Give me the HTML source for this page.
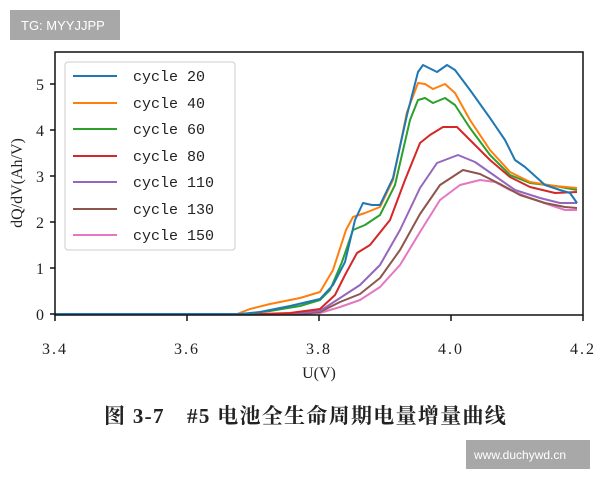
<!DOCTYPE html>
<html><head><meta charset="utf-8"><style>
body{margin:0;background:#fff;width:600px;height:480px;overflow:hidden}
</style></head><body>
<svg width="600" height="480" xmlns="http://www.w3.org/2000/svg" style="position:absolute;left:0;top:0">
<rect x="10" y="10" width="110" height="30" fill="#a8a8a8"/>
<text x="21" y="30" font-family="Liberation Sans,sans-serif" font-size="13" fill="#fff">TG: MYYJJPP</text>
<rect x="466" y="440" width="124" height="29" fill="#a8a8a8"/>
<text x="474" y="459" font-family="Liberation Sans,sans-serif" font-size="12" fill="#fff">www.duchywd.cn</text>

<g fill="none" stroke-width="2" stroke-linejoin="round">
<polyline stroke="#e377c2" points="55,314 285,314 300,314 320,313 340,307 360,300 380,287 400,265 420,232 440,200 460,185 480,180 495,182 510,190 530,198 550,205 565,210 577,210"/>
<polyline stroke="#8c564b" points="55,314 280,314 300,314 320,312 340,302 360,294 380,278 400,250 420,214 440,185 463,170 480,174 500,184 520,195 545,203 565,207 577,208"/>
<polyline stroke="#9467bd" points="55,314 275,314 300,313 320,311 340,298 360,285 380,265 400,230 420,188 437,163 458,155 475,162 495,176 515,190 540,198 560,203 577,203"/>
<polyline stroke="#d62728" points="55,314 260,314 290,313 320,309 335,295 345,275 357,253 370,245 390,220 405,180 420,143 430,135 443,127 457,127 470,140 490,160 510,177 530,187 555,193 577,192"/>
<polyline stroke="#2ca02c" points="55,314 245,314 270,311 300,306 320,300 330,290 342,262 353,230 365,225 380,215 395,185 410,120 418,100 425,98 433,103 445,98 455,105 470,128 490,155 510,175 530,183 555,186 577,190"/>
<polyline stroke="#ff7f0e" points="55,314 237,314 250,309 270,304 300,298 320,292 333,270 346,230 353,217 365,213 380,207 393,180 407,112 418,83 425,84 433,89 445,84 455,93 470,120 490,150 510,172 530,182 555,186 577,188"/>
<polyline stroke="#1f77b4" points="55,314 240,314 260,312 290,306 320,299 333,285 345,262 355,220 363,203 372,205 380,205 393,178 407,115 418,72 423,65 437,72 447,65 455,70 470,90 490,118 505,140 515,160 525,167 545,185 560,190 570,193 577,203"/>
</g>

<rect x="55" y="52" width="528" height="263" fill="none" stroke="#111" stroke-width="1.5"/>
<g stroke="#111" stroke-width="1.5">
<line x1="50" y1="314" x2="55" y2="314"/><line x1="50" y1="268" x2="55" y2="268"/><line x1="50" y1="222" x2="55" y2="222"/><line x1="50" y1="176" x2="55" y2="176"/><line x1="50" y1="130" x2="55" y2="130"/><line x1="50" y1="84" x2="55" y2="84"/>
<line x1="55" y1="315" x2="55" y2="321"/><line x1="187" y1="315" x2="187" y2="321"/><line x1="319" y1="315" x2="319" y2="321"/><line x1="451" y1="315" x2="451" y2="321"/><line x1="583" y1="315" x2="583" y2="321"/>
</g>
<g font-family="Liberation Serif,serif" font-size="16" fill="#222" text-anchor="end">
<text x="44" y="320">0</text><text x="44" y="274">1</text><text x="44" y="228">2</text><text x="44" y="182">3</text><text x="44" y="136">4</text><text x="44" y="90">5</text>
</g>
<g font-family="Liberation Serif,serif" font-size="16" fill="#222" text-anchor="middle">
<text x="55" y="354" letter-spacing="2">3.4</text><text x="187" y="354" letter-spacing="2">3.6</text><text x="319" y="354" letter-spacing="2">3.8</text><text x="451" y="354" letter-spacing="2">4.0</text><text x="583" y="354" letter-spacing="2">4.2</text>
<text x="319" y="378">U(V)</text>
<text transform="translate(22,183) rotate(-90)">dQ/dV(Ah/V)</text>
</g>

<rect x="65" y="62" width="170" height="188" rx="3" fill="#fff" stroke="#ccc"/>
<g stroke-width="2">
<line x1="73" y1="76" x2="117" y2="76" stroke="#1f77b4"/>
<line x1="73" y1="103" x2="117" y2="103" stroke="#ff7f0e"/>
<line x1="73" y1="129" x2="117" y2="129" stroke="#2ca02c"/>
<line x1="73" y1="156" x2="117" y2="156" stroke="#d62728"/>
<line x1="73" y1="182" x2="117" y2="182" stroke="#9467bd"/>
<line x1="73" y1="209" x2="117" y2="209" stroke="#8c564b"/>
<line x1="73" y1="235" x2="117" y2="235" stroke="#e377c2"/>
</g>
<g font-family="Liberation Mono,monospace" font-size="15" fill="#222">
<text x="133" y="81">cycle 20</text><text x="133" y="108">cycle 40</text><text x="133" y="134">cycle 60</text><text x="133" y="161">cycle 80</text><text x="133" y="187">cycle 110</text><text x="133" y="214">cycle 130</text><text x="133" y="240">cycle 150</text>
</g>
<text x="104" y="423" font-family="Liberation Serif,'Noto Serif CJK SC',serif" font-size="21" letter-spacing="1.3" fill="#222" font-weight="bold">图 3-7　#5 电池全生命周期电量增量曲线</text>
</svg>
</body></html>
